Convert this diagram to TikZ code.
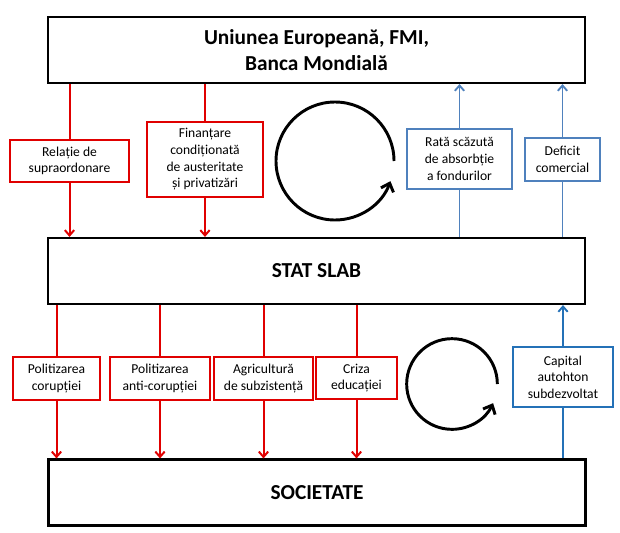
\documentclass[tikz,border=0pt]{standalone}
\usepackage{fontspec}
\setmainfont{Carlito}
\usepackage{tikz}
\usetikzlibrary{arrows.meta,calc,positioning}
\definecolor{boxred}{RGB}{224,0,0}
\definecolor{boxblue}{RGB}{79,129,189}
\definecolor{capblue}{RGB}{36,113,183}
\tikzset{%
	bigbox/.style    = {draw, rectangle, line width=1.6pt, minimum width=402.75pt, minimum height=49.5pt, align=center, font=\fontsize{16}{19.5}\selectfont\bfseries},
	redbox/.style    = {draw=boxred, fill=white, rectangle, line width=1.5pt, align=center, inner sep=1pt, font=\fontsize{10.2}{12.5}\selectfont},
	bluebox/.style   = {draw=boxblue, fill=white, rectangle, line width=1.4pt, align=center, inner sep=1pt, font=\fontsize{10.2}{12.5}\selectfont},
	redline/.style   = {boxred, line width=1.5pt},
	redarrow/.style  = {redline, -{Straight Barb[length=4pt,width=7pt]}},
	blueline/.style  = {boxblue, line width=1.4pt},
	bluearrow/.style = {blueline, -{Straight Barb[length=4pt,width=7pt]}},
	cyclearrow/.style= {line width=2.2pt, -{Straight Barb[length=5.5pt,width=10pt]}},
}

\begin{document}
\begin{tikzpicture}[x=0.75pt,y=-0.75pt]
	\useasboundingbox (0,0) rectangle (620,532);
	% the three levels
	\node[bigbox] (ue)   at (316.5,50)   {Uniunea Europeană, FMI,\\Banca Mondială};
	\node[bigbox] (stat) at (316.5,271)  {STAT SLAB};
	\node[bigbox] (soc)  at (317,492.5)  {SOCIETATE};
	% upper level
	\node[redbox, minimum width=89.25pt, minimum height=31.5pt]  (rel)  at (69.5,161)  {Relație de\\supraordonare};
	\node[redbox, minimum width=87pt, minimum height=56.25pt]    (fin)  at (205,159.5) {Finanțare\\condiționată\\de austeritate\\și privatizări};
	\node[bluebox, minimum width=78.75pt, minimum height=45pt]   (rata) at (459.5,159) {Rată scăzută\\de absorbție\\a fondurilor};
	\node[bluebox, minimum width=56.25pt, minimum height=32.25pt] (def) at (562.5,159.5) {Deficit\\comercial};
	\draw[redline]  (rel.north |- ue.south) -- (rel.north);
	\draw[redarrow] (rel.south) -- (rel.south |- stat.north);
	\draw[redline]  (fin.north |- ue.south) -- (fin.north);
	\draw[redarrow] (fin.south) -- (fin.south |- stat.north);
	\draw[blueline]  (rata.south |- stat.north) -- (rata.south);
	\draw[bluearrow] (rata.north) -- (rata.north |- ue.south);
	\draw[blueline]  (def.south |- stat.north) -- (def.south);
	\draw[bluearrow] (def.north) -- (def.north |- ue.south);
	\coordinate (cyc1) at (335,161);
	\draw[cyclearrow] ($(cyc1)+(44.25pt,0)$) arc[start angle=0, end angle=340, radius=44.25pt];
	% lower level
	\node[redbox, minimum width=65.25pt, minimum height=32.25pt] (pol1)  at (56.5,378.5)  {Politizarea\\corupției};
	\node[redbox, minimum width=75pt, minimum height=32.25pt]    (pol2)  at (160,378.5)   {Politizarea\\anti-corupției};
	\node[redbox, minimum width=74.25pt, minimum height=32.25pt] (agr)   at (263.5,378.5) {Agricultură\\de subzistență};
	\node[redbox, minimum width=60.75pt, minimum height=31.5pt]  (criza) at (356.5,378)   {Criza\\educației};
	\node[bluebox, draw=capblue, minimum width=75pt, minimum height=45pt] (cap) at (563,377) {Capital\\autohton\\subdezvoltat};
	\foreach \n in {pol1,pol2,agr,criza}{
		\draw[redline]  (\n.north |- stat.south) -- (\n.north);
		\draw[redarrow] (\n.south) -- (\n.south |- soc.north);
	}
	\draw[blueline, capblue]  (cap.south |- soc.north) -- (cap.south);
	\draw[bluearrow, capblue] (cap.north) -- (cap.north |- stat.south);
	\coordinate (cyc2) at (452,384);
	\draw[cyclearrow] ($(cyc2)+(34pt,0)$) arc[start angle=0, end angle=335, radius=34pt];
\end{tikzpicture}
\end{document}
